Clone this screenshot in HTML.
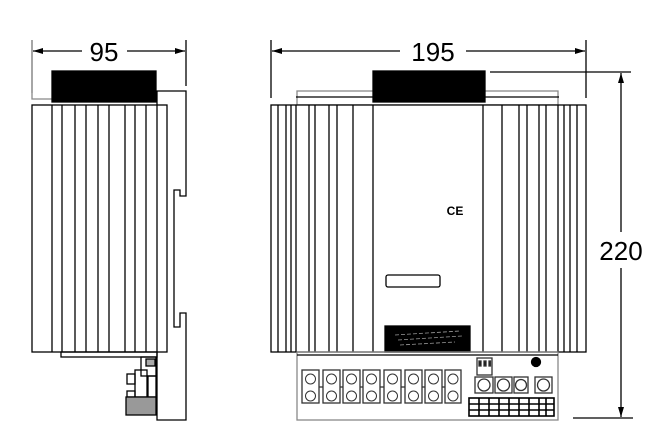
<!DOCTYPE html>
<html><head><meta charset="utf-8"><style>
html,body{margin:0;padding:0;background:#fff;}
svg{display:block;}
text{font-family:"Liberation Sans",sans-serif;}
</style></head><body>
<svg width="667" height="443" viewBox="0 0 667 443" xmlns="http://www.w3.org/2000/svg">
<defs>
<marker id="ar" viewBox="0 0 10 6" refX="10" refY="3" markerWidth="14" markerHeight="6" orient="auto-start-reverse" markerUnits="userSpaceOnUse"><path d="M0,0 L10,3 L0,6 z" fill="#000"/></marker>
</defs>
<g stroke="#000" stroke-width="1.3" fill="none">
<line x1="32" y1="40" x2="32" y2="93" stroke="#777"/>
<polyline points="32,93 32,99 52,99" stroke="#888"/>
<line x1="186" y1="40" x2="186" y2="86"/>
<line x1="33" y1="51" x2="82" y2="51" marker-start="url(#ar)"/>
<line x1="127" y1="51" x2="185" y2="51" marker-end="url(#ar)"/>
<rect x="52" y="71" width="104" height="31" fill="#000"/>
<polyline points="157,105 157,91 186,91 186,196 180,196 180,190 174,190 174,327 180,327 180,313 186,313 186,420 157,420 157,352"/>
<rect x="32" y="105" width="135" height="247" fill="#fff"/>
<g>
<line x1="52" y1="105" x2="52" y2="352"/><line x1="62" y1="105" x2="62" y2="352"/>
<line x1="75" y1="105" x2="75" y2="352"/><line x1="86" y1="105" x2="86" y2="352"/>
<line x1="98" y1="105" x2="98" y2="352"/><line x1="109" y1="105" x2="109" y2="352"/>
<line x1="125" y1="105" x2="125" y2="352"/><line x1="135" y1="105" x2="135" y2="352"/>
<line x1="146" y1="105" x2="146" y2="352"/><line x1="157" y1="105" x2="157" y2="352"/>
</g>
<rect x="61" y="352" width="96" height="5"/>
<rect x="141" y="357" width="15" height="19"/>
<rect x="146" y="359" width="9" height="7" fill="#aaa"/>
<rect x="135" y="370" width="12" height="27"/>
<rect x="127" y="374" width="8" height="10"/>
<rect x="148" y="376" width="8" height="21"/>
<rect x="127" y="391" width="8" height="6"/>
<rect x="126" y="397" width="30" height="18" fill="#999"/>

<line x1="271" y1="40" x2="271" y2="98"/>
<line x1="586" y1="40" x2="586" y2="98"/>
<line x1="272" y1="51" x2="400" y2="51" marker-start="url(#ar)"/>
<line x1="466" y1="51" x2="585" y2="51" marker-end="url(#ar)"/>
<rect x="297" y="91" width="261" height="14" stroke="#888"/>
<line x1="296" y1="97" x2="559" y2="97"/>
<rect x="373" y="71" width="112" height="31" fill="#000"/>
<rect x="271" y="105" width="315" height="247" fill="#fff"/>
<g>
<line x1="278" y1="105" x2="278" y2="352"/><line x1="286" y1="105" x2="286" y2="352"/>
<line x1="291" y1="105" x2="291" y2="352"/><line x1="296" y1="105" x2="296" y2="352"/>
<line x1="309" y1="105" x2="309" y2="352"/><line x1="315" y1="105" x2="315" y2="352"/>
<line x1="329" y1="105" x2="329" y2="352"/><line x1="337" y1="105" x2="337" y2="352"/>
<line x1="353" y1="105" x2="353" y2="352"/><line x1="373" y1="105" x2="373" y2="352"/>
<line x1="483" y1="105" x2="483" y2="352"/><line x1="502" y1="105" x2="502" y2="352"/>
<line x1="519" y1="105" x2="519" y2="352"/><line x1="527" y1="105" x2="527" y2="352"/>
<line x1="539" y1="105" x2="539" y2="352"/><line x1="546" y1="105" x2="546" y2="352"/>
<line x1="558" y1="105" x2="558" y2="352"/><line x1="564" y1="105" x2="564" y2="352"/>
<line x1="570" y1="105" x2="570" y2="352"/><line x1="577" y1="105" x2="577" y2="352"/>
</g>
<rect x="386" y="275" width="54" height="12" rx="2"/>
<rect x="385" y="326" width="85" height="26" fill="#000"/>
<path d="M395,335 L460,331 M398,340 L462,336 M400,345 L455,342" stroke="#999" stroke-width="0.8" stroke-dasharray="4,2"/>
<rect x="297" y="352" width="261" height="68" stroke="#888"/>
<line x1="297" y1="355" x2="558" y2="355"/>
<g stroke="#333">
<rect x="302" y="370" width="17" height="33"/><rect x="323" y="370" width="17" height="33"/>
<rect x="343" y="370" width="17" height="33"/><rect x="363" y="370" width="17" height="33"/>
<rect x="384" y="370" width="17" height="33"/><rect x="405" y="370" width="17" height="33"/>
<rect x="425" y="370" width="17" height="33"/><rect x="445" y="370" width="16" height="33"/>
<line x1="319" y1="387" x2="323" y2="387"/><line x1="340" y1="387" x2="343" y2="387"/>
<line x1="360" y1="387" x2="363" y2="387"/><line x1="380" y1="387" x2="384" y2="387"/>
<line x1="401" y1="387" x2="405" y2="387"/><line x1="422" y1="387" x2="425" y2="387"/>
<line x1="442" y1="387" x2="445" y2="387"/>
<g stroke-width="1">
<circle cx="310.5" cy="379" r="5"/><circle cx="310.5" cy="396" r="5"/>
<circle cx="331.5" cy="379" r="5"/><circle cx="331.5" cy="396" r="5"/>
<circle cx="351.5" cy="379" r="5"/><circle cx="351.5" cy="396" r="5"/>
<circle cx="371.5" cy="379" r="5"/><circle cx="371.5" cy="396" r="5"/>
<circle cx="392.5" cy="379" r="5"/><circle cx="392.5" cy="396" r="5"/>
<circle cx="413.5" cy="379" r="5"/><circle cx="413.5" cy="396" r="5"/>
<circle cx="433.5" cy="379" r="5"/><circle cx="433.5" cy="396" r="5"/>
<circle cx="453" cy="379" r="5"/><circle cx="453" cy="396" r="5"/>
</g>
<rect x="477" y="358" width="15" height="17"/>
<rect x="479" y="361" width="2" height="5" fill="#000"/><rect x="484" y="361" width="2" height="5" fill="#000"/><rect x="489" y="361" width="1.5" height="5" fill="#000"/>
<rect x="475" y="377" width="18" height="16"/><circle cx="484" cy="385" r="6"/>
<rect x="495" y="377" width="17" height="16"/><circle cx="503.5" cy="385" r="6"/>
<rect x="514" y="377" width="14" height="16"/><circle cx="521" cy="385" r="5.5"/>
<rect x="535" y="377" width="17" height="16"/><circle cx="543.5" cy="385" r="6"/>
</g>
<g stroke="#000" stroke-width="1.6">
<rect x="469" y="398" width="85" height="18"/>
<line x1="469" y1="404" x2="554" y2="404"/><line x1="469" y1="410" x2="554" y2="410"/>
<line x1="479" y1="398" x2="479" y2="416"/><line x1="489" y1="398" x2="489" y2="416"/>
<line x1="499" y1="398" x2="499" y2="416"/><line x1="509" y1="398" x2="509" y2="416"/>
<line x1="519" y1="398" x2="519" y2="416"/><line x1="529" y1="398" x2="529" y2="416"/>
<line x1="539" y1="398" x2="539" y2="416"/><line x1="546" y1="398" x2="546" y2="416"/>
</g>
<circle cx="536" cy="362" r="4.5" fill="#000"/>
<line x1="490" y1="72" x2="631" y2="72"/>
<line x1="573" y1="418" x2="633" y2="418"/>
<line x1="621" y1="73" x2="621" y2="232" marker-start="url(#ar)"/>
<line x1="621" y1="268" x2="621" y2="417" marker-end="url(#ar)"/>
</g>
<text x="104" y="61" font-size="26" text-anchor="middle">95</text>
<text x="433" y="61" font-size="26" text-anchor="middle">195</text>
<text x="621" y="260" font-size="26" text-anchor="middle">220</text>
<text x="455" y="215" font-size="12" font-weight="bold" text-anchor="middle">CE</text>
</svg>
</body></html>
